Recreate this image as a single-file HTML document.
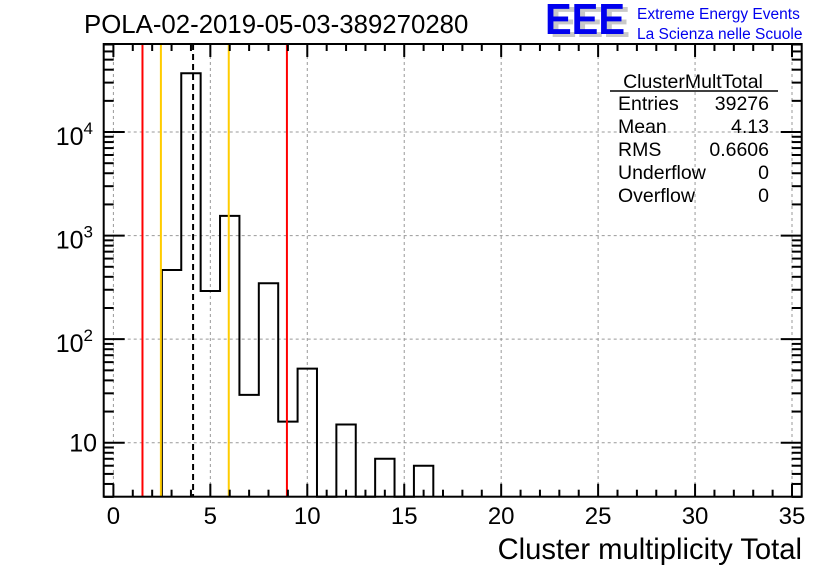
<!DOCTYPE html>
<html><head><meta charset="utf-8"><style>
html,body{margin:0;padding:0;background:#fff;}
svg{display:block;font-family:"Liberation Sans",Arial,sans-serif;}
</style></head><body>
<svg id="c" width="836" height="572" viewBox="0 0 836 572">
<text x="84" y="33" font-size="25.8">POLA-02-2019-05-03-389270280</text>
<g>
<text x="550" y="37" font-size="44" font-weight="bold" fill="#c8c8c8" textLength="80" lengthAdjust="spacingAndGlyphs">EEE</text>
<text x="545" y="34" font-size="44" font-weight="bold" fill="#0000ee" textLength="80" lengthAdjust="spacingAndGlyphs">EEE</text>
<text x="637" y="19" font-size="15.5" fill="#0000ee">Extreme Energy Events</text>
<text x="637" y="39" font-size="15.5" fill="#0000ee">La Scienza nelle Scuole</text>
</g>
<g id="grid"></g>
<g id="marks"></g>
<g id="axes"></g>
<g font-size="19.5">
<text x="693" y="88" text-anchor="middle">ClusterMultTotal</text>
<line x1="610" y1="91" x2="778" y2="91" stroke="#000" stroke-width="1.5"/>
<text x="618" y="110">Entries</text><text x="769" y="110" text-anchor="end">39276</text>
<text x="618" y="133">Mean</text><text x="769" y="133" text-anchor="end">4.13</text>
<text x="618" y="156">RMS</text><text x="769" y="156" text-anchor="end">0.6606</text>
<text x="618" y="179">Underflow</text><text x="769" y="179" text-anchor="end">0</text>
<text x="618" y="202">Overflow</text><text x="769" y="202" text-anchor="end">0</text>
</g>
<text x="802" y="559" font-size="29.2" text-anchor="end">Cluster multiplicity Total</text>
</svg>
<script>
const binCenters = [3,4,5,6,7,8,9,10,11,12,13,14,15,16];
const counts = [466,36900,292,1550,29,347,16,52,0,15,0,7,0,6];
const xTickLabels = [0,5,10,15,20,25,30,35];
const yDecades = [1,2,3,4];
const redLines = [1.5,8.95];
const yellowLines = [2.45,5.95];
const meanLine = [4.11];

const L=103.7,R=801.7,T=44,B=496.7;
const xMin=-0.5,xMax=35.5,yMinLog=0.479,yMaxLog=4.85;
const NS='http://www.w3.org/2000/svg';
function X(v){return L+(v-xMin)/(xMax-xMin)*(R-L);}
function Y(v){if(v<=0)return B+5;let l=Math.log10(v);return B-(l-yMinLog)/(yMaxLog-yMinLog)*(B-T);}
function mk(tag,attrs,parent){const e=document.createElementNS(NS,tag);for(const k in attrs)e.setAttribute(k,attrs[k]);parent.appendChild(e);return e;}
const grid=document.getElementById('grid'),marks=document.getElementById('marks'),axes=document.getElementById('axes');
const gs={stroke:'#999','stroke-width':1,'stroke-dasharray':'3,3'};
xTickLabels.forEach(v=>{const l=mk('line',Object.assign({x1:X(v),x2:X(v),y1:T,y2:B},gs),grid);

});
yDecades.forEach(d=>{const l=mk('line',Object.assign({x1:L,x2:R,y1:Y(Math.pow(10,d)),y2:Y(Math.pow(10,d))},gs),grid);

});
let d='';
const clip=v=>Math.min(B,Math.max(T,v));
binCenters.forEach((c,i)=>{const x0=X(c-0.5),x1=X(c+0.5),y=clip(Y(counts[i]));
d+=(i===0?'M'+x0+','+B:'')+' L'+x0+','+y+' L'+x1+','+y;});
d+=' L'+X(binCenters[binCenters.length-1]+0.5)+','+B;
const p=mk('path',{d:d,fill:'none',stroke:'#000','stroke-width':2},marks);


function vline(v,col,dash,name){const l=mk('line',{x1:X(v),x2:X(v),y1:T,y2:B,stroke:col,'stroke-width':2},marks);if(dash)l.setAttribute('stroke-dasharray',dash);

}
redLines.forEach(v=>vline(v,'#ff0000',null,'red-limit-line'));
yellowLines.forEach(v=>vline(v,'#ffcc00',null,'yellow-limit-line'));
meanLine.forEach(v=>vline(v,'#000','6,4','mean-line'));
const f=mk('rect',{x:L,y:T,width:R-L,height:B-T,fill:'none',stroke:'#000','stroke-width':2},axes);


const ts={stroke:'#000','stroke-width':2};
for(let v=0;v<=35;v++){const maj=v%5===0,len=maj?13:7;
mk('line',Object.assign({x1:X(v),x2:X(v),y1:B,y2:B-len},ts),axes);
mk('line',Object.assign({x1:X(v),x2:X(v),y1:T,y2:T+len},ts),axes);}
xTickLabels.forEach(v=>{const t=mk('text',{x:X(v),y:524,'font-size':24,'text-anchor':'middle'},axes);t.textContent=v;

});
for(let dd=0;dd<=4;dd++){for(let m=1;m<=9;m++){const v=m*Math.pow(10,dd),y=Y(v);if(y<T-0.5||y>B+0.5)continue;const len=m===1?21:10;
mk('line',Object.assign({x1:L,x2:L+len,y1:y,y2:y},ts),axes);
mk('line',Object.assign({x1:R,x2:R-len,y1:y,y2:y},ts),axes);}}
yDecades.forEach(dd=>{const y=Y(Math.pow(10,dd));const t=mk('text',{x:dd===1?97:83.5,y:dd===1?y+9:y+13,'font-size':25,'text-anchor':'end'},axes);


t.textContent='10';
if(dd!==1){const s=mk('text',{x:83.5,y:y+2,'font-size':17,'text-anchor':'start'},axes);s.textContent=dd;

}});
</script>
</body></html>
